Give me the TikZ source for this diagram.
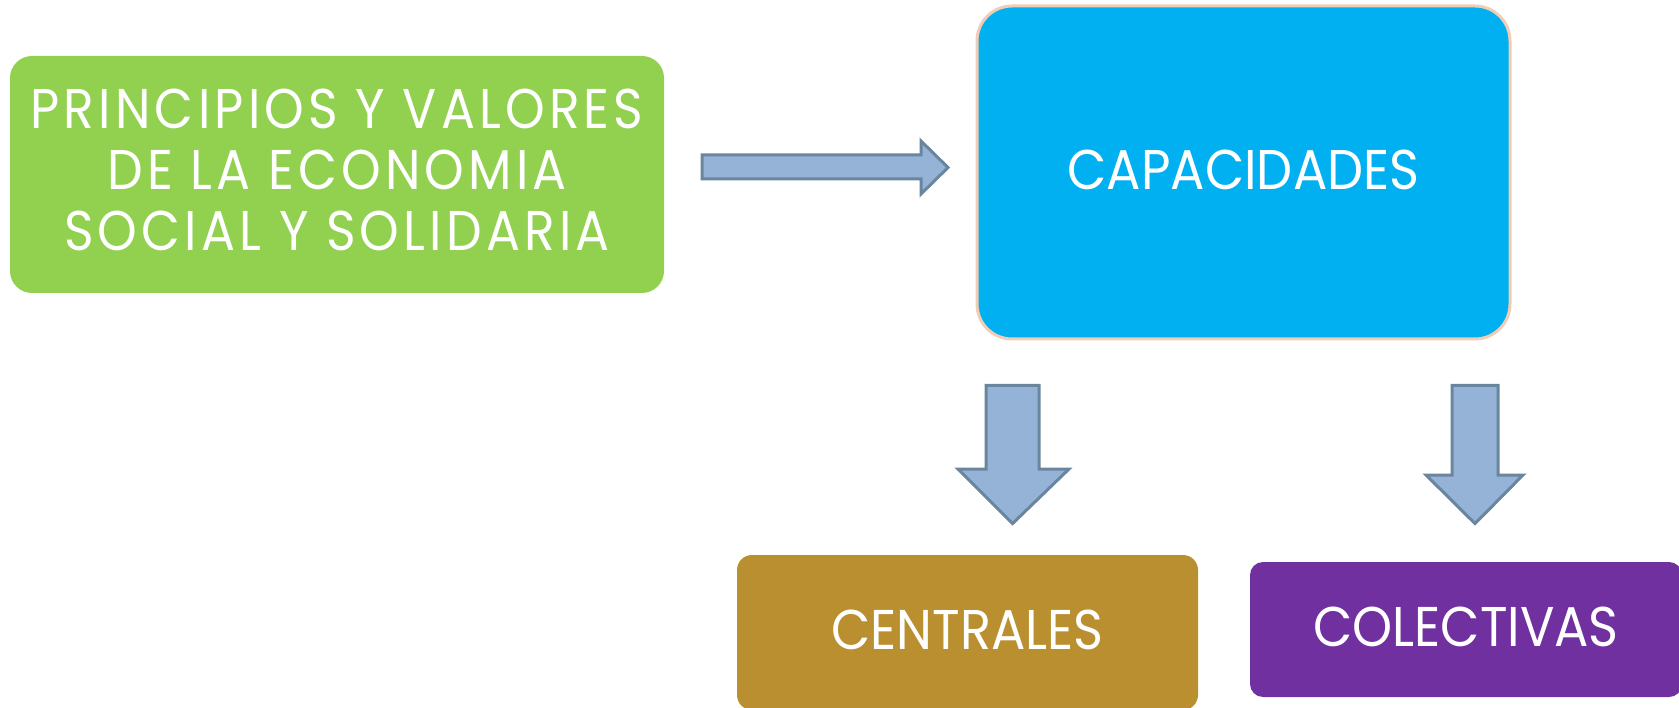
\documentclass[tikz,border=0pt]{standalone}
\usepackage{fontspec}
\setmainfont[FakeStretch=0.91]{Poppins}
\newfontfamily\ruimfont[FakeStretch=0.9,LetterSpace=7.5]{Poppins}
\usepackage{tikz}
\usetikzlibrary{calc,positioning}
\definecolor{groen}{HTML}{92D050}
\definecolor{blauw}{HTML}{00B0F0}
\definecolor{perzik}{HTML}{F0CDB4}
\definecolor{oker}{HTML}{B98F2F}
\definecolor{paars}{HTML}{7030A0}
\definecolor{pijlvul}{HTML}{95B3D7}
\definecolor{pijlrand}{HTML}{6A859E}
\tikzset{
  % box styles
  box/.style={rectangle,text=white,inner sep=0pt,text height=40pt,text depth=6pt,
    font=\fontsize{56}{61}\selectfont},
  % block arrows
  blockarrow/.style={fill=pijlvul,draw=pijlrand,line width=3pt,line join=miter},
}

\begin{document}
\begin{tikzpicture}[x=1pt,y=-1pt]
  \useasboundingbox (0,0) rectangle (1679,708);
  \node[box,fill=groen,rounded corners=22pt,minimum width=654pt,minimum height=237pt,align=center,
    text height=158pt,font=\ruimfont\fontsize{56}{61}\selectfont] (principios) at (337,174.5)
    {PRINCIPIOS Y VALORES\\DE LA ECONOMIA\\SOCIAL Y SOLIDARIA};
  \node[box,fill=blauw,draw=perzik,line width=3pt,rounded corners=35pt,minimum width=533pt,minimum height=333pt] (capacidades) at (1243.5,172.5)
    {CAPACIDADES};
  \node[box,fill=oker,rounded corners=15pt,minimum width=461pt,minimum height=155pt] (centrales) at (967.5,632.5)
    {CENTRALES};
  \node[box,fill=paars,rounded corners=13pt,minimum width=432pt,minimum height=135pt] (colectivas) at (1466,629.5)
    {COLECTIVAS};
  % principios -> capacidades
  \draw[blockarrow] (702,155) -- (921,155) -- (921,141) -- (948,167.5) -- (921,194) -- (921,179) -- (702,179) -- cycle;
  % capacidades -> centrales
  \draw[blockarrow] (986,385.5) -- (1039,385.5) -- (1039,469) -- (1069,469) -- (1012.5,523.6) -- (958,469) -- (986,469) -- cycle;
  % capacidades -> colectivas
  \draw[blockarrow] (1452,385.5) -- (1498,385.5) -- (1498,475) -- (1523,475) -- (1475,523.6) -- (1426,475) -- (1452,475) -- cycle;
\end{tikzpicture}
\end{document}
